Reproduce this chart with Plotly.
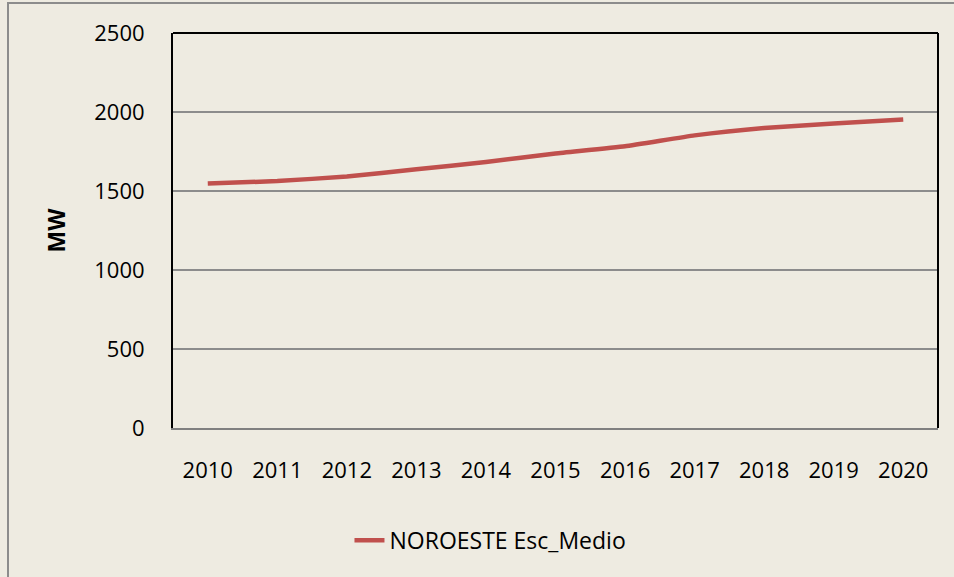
import plotly.graph_objects as go

years = ["2010", "2011", "2012", "2013", "2014", "2015", "2016", "2017", "2018", "2019", "2020"]
noroeste_medio = [1547, 1563, 1592, 1637, 1684, 1737, 1783, 1852, 1899, 1927, 1953]
series_name = "NOROESTE Esc_Medio"
y_ticks = [0, 500, 1000, 1500, 2000, 2500]

BG = "#EEEBE1"
FONT = "Open Sans, Liberation Sans, sans-serif"

fig = go.Figure()
fig.add_trace(go.Scatter(
    x=years, y=noroeste_medio, mode="lines", name=series_name,
    line=dict(color="#C0504D", width=4.5, shape="spline", smoothing=0.4),
))

fig.update_layout(
    width=954, height=577,
    paper_bgcolor=BG, plot_bgcolor=BG,
    margin=dict(l=173, r=16, t=33, b=149, autoexpand=False),
    font=dict(family=FONT, size=22, color="#000000"),
    showlegend=True,
    legend=dict(orientation="h", x=0.415, xanchor="center", y=-0.23, yanchor="top",
                font=dict(size=23), bgcolor="rgba(0,0,0,0)"),
    xaxis=dict(type="category", range=[-0.5, 10.5], showgrid=False, showline=True,
               linecolor="#808080", linewidth=2, automargin=False,
               ticks="", ticklabelstandoff=22, mirror=False, zeroline=False),
    yaxis=dict(range=[0, 2500], tickvals=y_ticks, showgrid=True, gridcolor="#8C8C8C", gridwidth=1.5,
               showline=True, linecolor="#000000", linewidth=2, ticks="", ticklabelstandoff=22,
               zeroline=False, automargin=False,
               title=dict(text="<b>MW</b>", font=dict(size=23), standoff=22)),
    shapes=[
        dict(type="line", xref="paper", yref="paper", x0=0, x1=1, y0=1, y1=1,
             line=dict(color="#000000", width=2)),
        dict(type="line", xref="paper", yref="paper", x0=1, x1=1, y0=0, y1=1,
             line=dict(color="#000000", width=2)),
        dict(type="rect", xref="paper", yref="paper",
             x0=(8 - 173) / 765, x1=(960 - 173) / 765,
             y0=(428 - 580) / 395, y1=1 + 30 / 395,
             line=dict(color="#8C8C8C", width=2), layer="below"),
    ],
)

fig.write_html("out.html", post_script="document.body.style.margin='0';",
               config={"displayModeBar": False})
